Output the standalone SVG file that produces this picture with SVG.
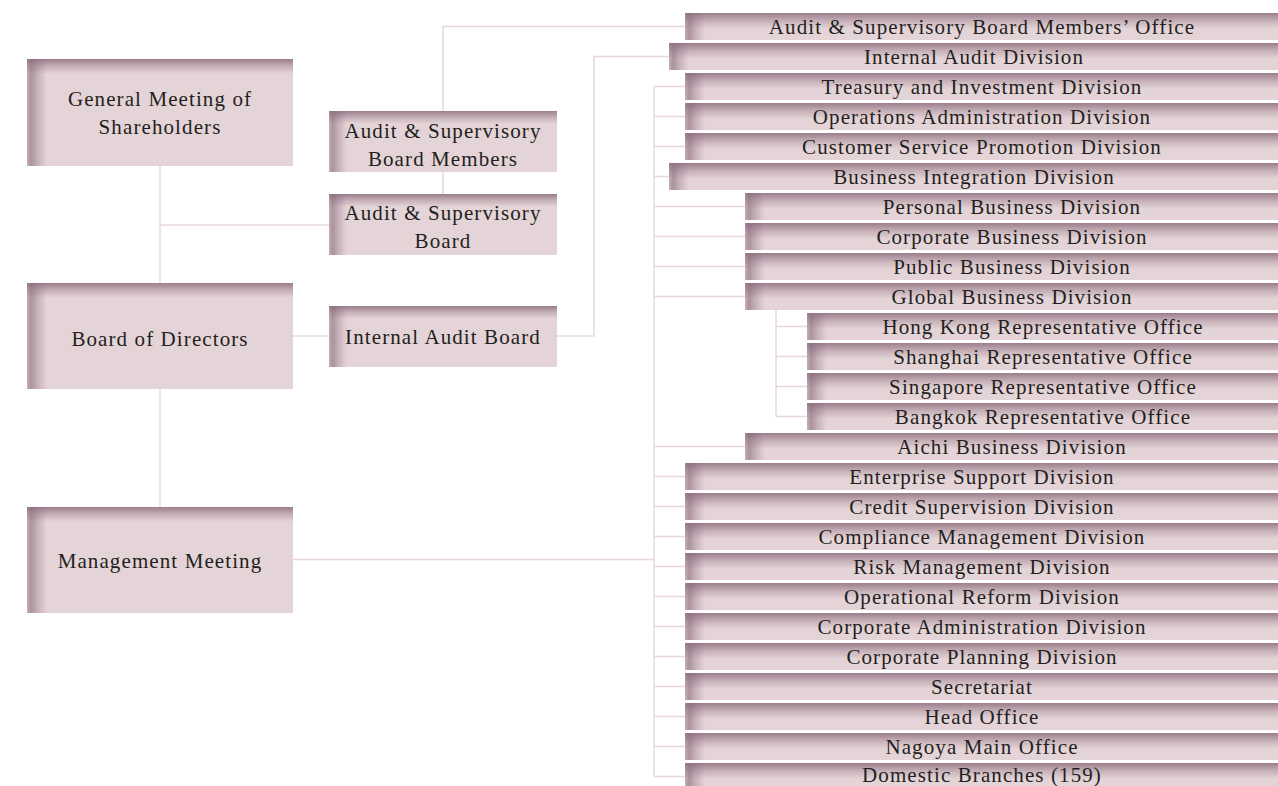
<svg xmlns="http://www.w3.org/2000/svg" width="1278" height="786" viewBox="0 0 1278 786">
<defs>
<linearGradient id="gT" x1="0" y1="0" x2="0" y2="1"><stop offset="0" stop-color="#8f6f7f" stop-opacity="0.85"/><stop offset="0.5" stop-color="#8f6f7f" stop-opacity="0.35"/><stop offset="1" stop-color="#8f6f7f" stop-opacity="0"/></linearGradient>
<linearGradient id="gL" x1="0" y1="0" x2="1" y2="0"><stop offset="0" stop-color="#9c7e8c" stop-opacity="0.45"/><stop offset="0.2" stop-color="#86667a" stop-opacity="0.6"/><stop offset="0.55" stop-color="#86667a" stop-opacity="0.3"/><stop offset="1" stop-color="#86667a" stop-opacity="0"/></linearGradient>
<style>
.b{fill:#e4d4d7}
.t{fill:url(#gT)}
.l{fill:url(#gL)}
text{font-family:"Liberation Serif","Times New Roman",serif;font-size:21px;letter-spacing:1.1px;fill:#231f20;text-anchor:middle}
.c{fill:none;stroke:#e8d8db;stroke-width:1.5}
</style>
</defs>
<rect width="1278" height="786" fill="#ffffff"/>
<g id="connectors" class="c">
<path d="M160 166V507"/>
<path d="M160 225H329"/>
<path d="M293 336H329"/>
<path d="M557 336H594V56.5H669"/>
<path d="M443 194V26.5H685"/>
<path d="M293 559.5H654"/>
<path d="M654 86.5V776.5"/>
<path d="M654 86.5H685M654 116.5H685M654 146.5H685M654 176.5H669M654 206.5H745M654 236.5H745M654 266.5H745M654 296.5H745M654 446.5H745M654 476.5H685M654 506.5H685M654 536.5H685M654 566.5H685M654 596.5H685M654 626.5H685M654 656.5H685M654 686.5H685M654 716.5H685M654 746.5H685M654 776.5H685"/>
<path d="M776 310V416.5M776 326.5H807M776 356.5H807M776 386.5H807M776 416.5H807"/>
</g>
<g id="n-gm"><rect class="b" x="27" y="59" width="266" height="107"/><rect class="t" x="27" y="59" width="266" height="15"/><rect class="l" x="27" y="59" width="20" height="107"/><text x="160" y="106">General Meeting of</text><text x="160" y="134">Shareholders</text></g>
<g id="n-bod"><rect class="b" x="27" y="283" width="266" height="106"/><rect class="t" x="27" y="283" width="266" height="15"/><rect class="l" x="27" y="283" width="20" height="106"/><text x="160" y="346">Board of Directors</text></g>
<g id="n-mm"><rect class="b" x="27" y="507" width="266" height="106"/><rect class="t" x="27" y="507" width="266" height="15"/><rect class="l" x="27" y="507" width="20" height="106"/><text x="160" y="568">Management Meeting</text></g>
<g id="n-asbm"><rect class="b" x="329" y="111" width="228" height="61"/><rect class="t" x="329" y="111" width="228" height="13"/><rect class="l" x="329" y="111" width="18" height="61"/><text x="443" y="138">Audit &amp; Supervisory</text><text x="443" y="166">Board Members</text></g>
<g id="n-asb"><rect class="b" x="329" y="194" width="228" height="61"/><rect class="t" x="329" y="194" width="228" height="13"/><rect class="l" x="329" y="194" width="18" height="61"/><text x="443" y="220">Audit &amp; Supervisory</text><text x="443" y="248">Board</text></g>
<g id="n-iab"><rect class="b" x="329" y="306" width="228" height="61"/><rect class="t" x="329" y="306" width="228" height="13"/><rect class="l" x="329" y="306" width="18" height="61"/><text x="443" y="344">Internal Audit Board</text></g>
<g id="r0"><rect class="b" x="685" y="13" width="600" height="27"/><rect class="t" x="685" y="13" width="600" height="16"/><rect class="l" x="685" y="13" width="20" height="27"/><text x="982" y="34">Audit &amp; Supervisory Board Members’ Office</text></g>
<g id="r1"><rect class="b" x="669" y="43" width="620" height="27"/><rect class="t" x="669" y="43" width="620" height="16"/><rect class="l" x="669" y="43" width="20" height="27"/><text x="974" y="64">Internal Audit Division</text></g>
<g id="r2"><rect class="b" x="685" y="73" width="600" height="27"/><rect class="t" x="685" y="73" width="600" height="16"/><rect class="l" x="685" y="73" width="20" height="27"/><text x="982" y="94">Treasury and Investment Division</text></g>
<g id="r3"><rect class="b" x="685" y="103" width="600" height="27"/><rect class="t" x="685" y="103" width="600" height="16"/><rect class="l" x="685" y="103" width="20" height="27"/><text x="982" y="124">Operations Administration Division</text></g>
<g id="r4"><rect class="b" x="685" y="133" width="600" height="27"/><rect class="t" x="685" y="133" width="600" height="16"/><rect class="l" x="685" y="133" width="20" height="27"/><text x="982" y="154">Customer Service Promotion Division</text></g>
<g id="r5"><rect class="b" x="669" y="163" width="620" height="27"/><rect class="t" x="669" y="163" width="620" height="16"/><rect class="l" x="669" y="163" width="20" height="27"/><text x="974" y="184">Business Integration Division</text></g>
<g id="r6"><rect class="b" x="745" y="193" width="540" height="27"/><rect class="t" x="745" y="193" width="540" height="16"/><rect class="l" x="745" y="193" width="20" height="27"/><text x="1012" y="214">Personal Business Division</text></g>
<g id="r7"><rect class="b" x="745" y="223" width="540" height="27"/><rect class="t" x="745" y="223" width="540" height="16"/><rect class="l" x="745" y="223" width="20" height="27"/><text x="1012" y="244">Corporate Business Division</text></g>
<g id="r8"><rect class="b" x="745" y="253" width="540" height="27"/><rect class="t" x="745" y="253" width="540" height="16"/><rect class="l" x="745" y="253" width="20" height="27"/><text x="1012" y="274">Public Business Division</text></g>
<g id="r9"><rect class="b" x="745" y="283" width="540" height="27"/><rect class="t" x="745" y="283" width="540" height="16"/><rect class="l" x="745" y="283" width="20" height="27"/><text x="1012" y="304">Global Business Division</text></g>
<g id="r10"><rect class="b" x="807" y="313" width="480" height="27"/><rect class="t" x="807" y="313" width="480" height="16"/><rect class="l" x="807" y="313" width="20" height="27"/><text x="1043" y="334">Hong Kong Representative Office</text></g>
<g id="r11"><rect class="b" x="807" y="343" width="480" height="27"/><rect class="t" x="807" y="343" width="480" height="16"/><rect class="l" x="807" y="343" width="20" height="27"/><text x="1043" y="364">Shanghai Representative Office</text></g>
<g id="r12"><rect class="b" x="807" y="373" width="480" height="27"/><rect class="t" x="807" y="373" width="480" height="16"/><rect class="l" x="807" y="373" width="20" height="27"/><text x="1043" y="394">Singapore Representative Office</text></g>
<g id="r13"><rect class="b" x="807" y="403" width="480" height="27"/><rect class="t" x="807" y="403" width="480" height="16"/><rect class="l" x="807" y="403" width="20" height="27"/><text x="1043" y="424">Bangkok Representative Office</text></g>
<g id="r14"><rect class="b" x="745" y="433" width="540" height="27"/><rect class="t" x="745" y="433" width="540" height="16"/><rect class="l" x="745" y="433" width="20" height="27"/><text x="1012" y="454">Aichi Business Division</text></g>
<g id="r15"><rect class="b" x="685" y="463" width="600" height="27"/><rect class="t" x="685" y="463" width="600" height="16"/><rect class="l" x="685" y="463" width="20" height="27"/><text x="982" y="484">Enterprise Support Division</text></g>
<g id="r16"><rect class="b" x="685" y="493" width="600" height="27"/><rect class="t" x="685" y="493" width="600" height="16"/><rect class="l" x="685" y="493" width="20" height="27"/><text x="982" y="514">Credit Supervision Division</text></g>
<g id="r17"><rect class="b" x="685" y="523" width="600" height="27"/><rect class="t" x="685" y="523" width="600" height="16"/><rect class="l" x="685" y="523" width="20" height="27"/><text x="982" y="544">Compliance Management Division</text></g>
<g id="r18"><rect class="b" x="685" y="553" width="600" height="27"/><rect class="t" x="685" y="553" width="600" height="16"/><rect class="l" x="685" y="553" width="20" height="27"/><text x="982" y="574">Risk Management Division</text></g>
<g id="r19"><rect class="b" x="685" y="583" width="600" height="27"/><rect class="t" x="685" y="583" width="600" height="16"/><rect class="l" x="685" y="583" width="20" height="27"/><text x="982" y="604">Operational Reform Division</text></g>
<g id="r20"><rect class="b" x="685" y="613" width="600" height="27"/><rect class="t" x="685" y="613" width="600" height="16"/><rect class="l" x="685" y="613" width="20" height="27"/><text x="982" y="634">Corporate Administration Division</text></g>
<g id="r21"><rect class="b" x="685" y="643" width="600" height="27"/><rect class="t" x="685" y="643" width="600" height="16"/><rect class="l" x="685" y="643" width="20" height="27"/><text x="982" y="664">Corporate Planning Division</text></g>
<g id="r22"><rect class="b" x="685" y="673" width="600" height="27"/><rect class="t" x="685" y="673" width="600" height="16"/><rect class="l" x="685" y="673" width="20" height="27"/><text x="982" y="694">Secretariat</text></g>
<g id="r23"><rect class="b" x="685" y="703" width="600" height="27"/><rect class="t" x="685" y="703" width="600" height="16"/><rect class="l" x="685" y="703" width="20" height="27"/><text x="982" y="724">Head Office</text></g>
<g id="r24"><rect class="b" x="685" y="733" width="600" height="27"/><rect class="t" x="685" y="733" width="600" height="16"/><rect class="l" x="685" y="733" width="20" height="27"/><text x="982" y="754">Nagoya Main Office</text></g>
<g id="r25"><rect class="b" x="685" y="763" width="600" height="27"/><rect class="t" x="685" y="763" width="600" height="16"/><rect class="l" x="685" y="763" width="20" height="27"/><text x="982" y="782">Domestic Branches (159)</text></g>
</svg>
